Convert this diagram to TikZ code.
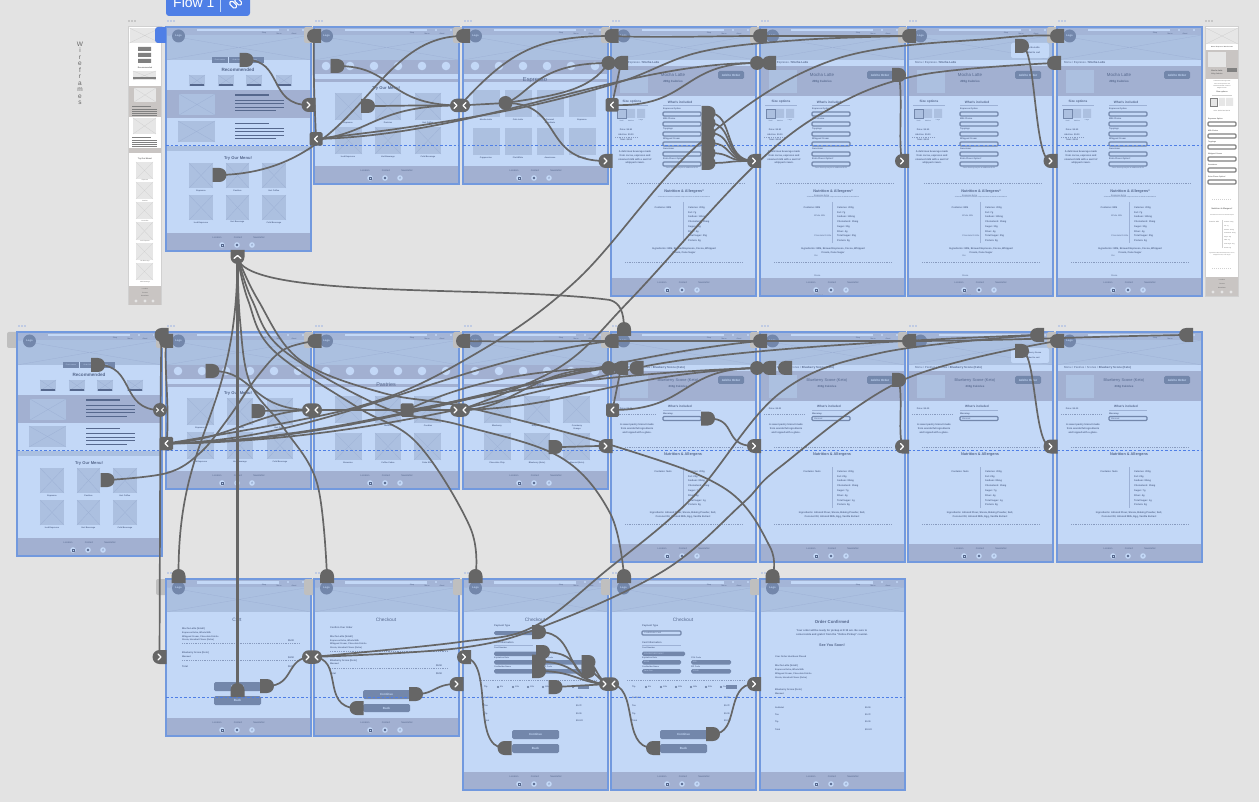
\documentclass[tikz,border=0pt]{standalone}
\usepackage{fontspec}
\setmainfont{Liberation Sans}
\usetikzlibrary{shapes.misc}
\definecolor{bgc}{HTML}{E3E3E3}
\definecolor{bodyc}{HTML}{C3D8F7}
\definecolor{hdrc}{HTML}{ABC0E0}
\definecolor{navc}{HTML}{A4B5D7}
\definecolor{bandc}{HTML}{A2B0D1}
\definecolor{framec}{HTML}{7299DE}
\definecolor{cornerc}{HTML}{BFBFBF}
\definecolor{hc}{HTML}{666666}
\definecolor{phc}{HTML}{ACC0E0}
\definecolor{xlc}{HTML}{9DB1D5}
\definecolor{txc}{HTML}{56688D}
\definecolor{btnc}{HTML}{7387AB}
\definecolor{blu}{HTML}{4F7FE6}
\definecolor{sbg}{HTML}{C9C5C3}
\definecolor{sph}{HTML}{E6E6E6}
\definecolor{sln}{HTML}{D0D0D0}
\pgfdeclarelayer{scr}\pgfdeclarelayer{conl}
\pgfsetlayers{scr,conl,main}
\newcounter{tn}
\newcommand\tx[4][]{\stepcounter{tn}\node[tt,#1] (t\arabic{tn}) at (#2,#3) {#4};}
\newcommand\ph[4]{\fill[phc] (#1,#2) rectangle (#3,#4);\draw[xl] (#1,#2)--(#3,#4) (#1,#4)--(#3,#2);}
\newcommand\phn[4]{\fill[phc] (#1,#2) rectangle (#3,#4);}
\newcommand\phg[4]{\fill[sph] (#1,#2) rectangle (#3,#4);\draw[sln,line width=.3pt] (#1,#2)--(#3,#4) (#1,#4)--(#3,#2);}
\newcommand\btn[5]{\fill[btnc,rounded corners=1.5pt] (#1,#2) rectangle (#3,#4);\tx[fb=3,text=bodyc]{#1/2+#3/2}{#2/2+#4/2}{#5}}
\newcommand\dd[5]{\draw[bodyc,fill=bodyc] (#1,#2) rectangle (#3,#4);\draw[btnc,line width=1.3pt,rounded corners=1pt] (#1,#2) rectangle (#3,#4);\tx[fs=2.2,al]{#1+2}{#2/2+#4/2}{#5}}
\newcommand\scrbase[1]{%
 \fill[cornerc,rounded corners=2pt] (-10,0) rectangle (1,16);
 \fill[blu] (2,-6) circle (.7) (5,-6) circle (.7) (8,-6) circle (.7);
 \fill[bodyc] (0,0) rectangle (145,#1);
 \fill[hdrc] (0,0) rectangle (145,33);
 \draw[xl] (0,8)--(145,33) (0,33)--(145,8);
 \fill[navc] (0,0) rectangle (145,8);
 \fill[bodyc] (31,2) rectangle (113,4.5);
 \fill[bodyc] (122,3) circle (1.2) (137,3) circle (1.2);
 \tx[fs=1.9]{98}{6.5}{Shop}\tx[fs=1.9]{113}{6.5}{Menu}\tx[fs=1.9]{128}{6.5}{About}
 \fill[btnc] (12.5,9) circle (6.5);
 \tx[fb=2.6,text=bodyc]{12.5}{9}{Logo}
 \fill[bandc] (0,#1-18) rectangle (145,#1);
 \tx[fs=2.4]{51}{#1-13.5}{Location}\tx[fs=2.4]{72}{#1-13.5}{Contact}\tx[fs=2.4]{93}{#1-13.5}{Newsletter}
 \fill[bodyc] (56,#1-6) circle (2.8) (71,#1-6) circle (2.8) (86,#1-6) circle (2.8);
 \draw[txc,line width=.4pt] (54.8,#1-7.2) rectangle (57.2,#1-4.8);
 \fill[txc] (71,#1-6) circle (1.3);
 \tx[fb=3]{86}{#1-6}{f}
}
\newcommand\scrfin[1]{\draw[framec,line width=1.2pt] (0,0) rectangle (145,#1);
 \draw[blu,line width=.7pt,dashed,dash pattern=on 2.5pt off 2pt] (0,118) -- (145,118);}
\newcommand\circband{\fill[bandc] (0,33) rectangle (145,47);
 \foreach \c in {12,36,60,84,108,132}{\fill[bodyc] (\c,39) circle (4.3);}
 \fill[bandc] (0,52) rectangle (145,55);}
\newcommand\homescr[2]{\begin{scope}[shift={(#1,#2)}]
 \scrbase{224}
 \fill[btnc] (46,30) rectangle (98,36.5);
 \draw[bodyc,line width=.3pt] (62,30)--(62,36.5) (81,30)--(81,36.5);
 \tx[fs=1.7,text=bodyc]{54}{33.2}{Find Location}\tx[fs=1.7,text=bodyc]{71.5}{33.2}{Order Online}\tx[fs=1.7,text=bodyc]{89}{33.2}{Menu}
 \tx[fb=4.6]{72}{43}{Recommended}
 \foreach \c in {23,52,80,110}{\ph{\c}{48}{\c+16}{59}\fill[txc] (\c+1,57.2) rectangle (\c+15,58.6);}
 \fill[bandc] (0,63) rectangle (145,91);
 \ph{13}{67}{49}{88}
 \draw[txc,line width=1.6pt] (69,68)--(103,68);
 \draw[txc,line width=1pt] (69,73.5)--(118,73.5) (69,77)--(118,77) (69,80.5)--(118,80.5) (69,84)--(110,84);
 \ph{12}{94}{49}{115}
 \draw[txc,line width=1.6pt] (69,96.5)--(103,96.5);
 \draw[txc,line width=1pt] (69,101.5)--(118,101.5) (69,105)--(118,105) (69,108.5)--(118,108.5) (69,112)--(110,112);
 \fill[hdrc] (0,119) rectangle (145,124);
 \tx[fb=4.1]{72}{131}{Try Our Menu!}
 \ph{23}{136}{47}{161}\ph{60}{136}{83}{161}\ph{96}{136}{120}{161}
 \ph{23}{168}{47}{193}\ph{60}{168}{83}{193}\ph{96}{168}{120}{193}
 \tx[fb=2.1]{35}{163.5}{Espresso}\tx[fb=2.1]{71.5}{163.5}{Pastries}\tx[fb=2.1]{108}{163.5}{Hot Coffee}
 \tx[fb=2.1]{35}{195.5}{Iced Espresso}\tx[fb=2.1]{71.5}{195.5}{Hot Beverage}\tx[fb=2.1]{108}{195.5}{Cold Beverage}
 \scrfin{224}
\end{scope}}
\newcommand\menuscr[2]{\begin{scope}[shift={(#1,#2)}]
 \scrbase{157}\circband
 \tx[fb=4.1]{72}{61}{Try Our Menu!}
 \ph{21}{66}{48}{93}\ph{61}{66}{87}{93}\ph{101}{66}{127}{93}
 \ph{21}{100}{48}{127}\ph{61}{100}{87}{127}\ph{101}{100}{127}{127}
 \tx[fb=2.1]{34}{96}{Espresso}\tx[fb=2.1]{74}{96}{Pastries}\tx[fb=2.1]{114}{96}{Hot Coffee}
 \tx[fb=2.1]{34}{130}{Iced Espresso}\tx[fb=2.1]{74}{130}{Hot Beverage}\tx[fb=2.1]{114}{130}{Cold Beverage}
 \scrfin{157}
\end{scope}}
\newcommand\espscr[2]{\begin{scope}[shift={(#1,#2)}]
 \scrbase{157}\circband
 \tx[fs=5.8]{72}{53}{Espresso}
 \foreach \c in {10,42,74,106}{\phn{\c}{63}{\c+26.5}{90}\phn{\c}{101}{\c+26.5}{128}}
 \tx[fb=2.1]{23}{93}{Mocha Latte}\tx[fb=2.1]{55}{93}{Cafe Latte}\tx[fb=2.1]{87}{93}{Caramel}\tx[fb=2.1]{87}{96}{Macchiato}\tx[fb=2.1]{119}{93}{Espresso}
 \tx[fb=2.1]{23}{131}{Cappuccino}\tx[fb=2.1]{55}{131}{Flat White}\tx[fb=2.1]{87}{131}{Americano}\tx[fb=2.1]{119}{131}{Red Eye}
 \scrfin{157}
\end{scope}}
\newcommand\pastscr[8]{\begin{scope}[shift={(#1,#2)}]
 \scrbase{157}\circband
 \tx[fs=5.4]{72}{53}{#3}
 \ph{21}{64}{48}{91}\ph{61}{64}{87}{91}\ph{100}{64}{127}{91}
 \ph{21}{101}{48}{128}\ph{61}{101}{87}{128}\ph{100}{101}{127}{128}
 \tx[fb=2.1]{34}{94}{#4}\tx[fb=2.1]{74}{94}{#5}\tx[fb=2.1]{114}{94}{#6}
 \tx[fb=2.1]{34}{131}{#7}\tx[fb=2.1]{74}{131}{#8}
 \scrfin{157}
\end{scope}}
\newcommand\ftop[1]{% breadcrumb, title bar
 \fill[bodyc] (0,33) rectangle (145,39);
 \tx[fs=2.9,al]{7}{36}{#1}
 \fill[bandc] (0,39) rectangle (145,69);
 \phn{9}{43}{37}{66}
 \btn{107}{44}{133}{52}{Add to Order}
}
\newcommand\detscr[3]{\begin{scope}[shift={(#1,#2)}]
 \scrbase{269}
 \ftop{Menu / Espresso / \textbf{Mocha Latte}}
 \tx[fs=4.4]{62}{48}{Mocha Latte}\tx[fb=3]{62}{55}{200g Calories}
 \tx[fb=3.2]{21}{75}{Size options}\tx[fb=3.2]{69}{75}{What's included}
 \draw[xlb] (5,78)--(37,78) (52,78)--(90,78);
 \fill[phc] (16,82) rectangle (24,91) (26,82) rectangle (34,91);
 \draw[btnc,fill=phc,line width=.8pt] (6,82) rectangle (15,91);
 \tx[fs=1.6]{10.5}{93.5}{Small}\tx[fs=1.6]{20}{93.5}{Medium}\tx[fs=1.6]{30}{93.5}{Large}
 \tx[fb=2.2]{15}{103}{Price: \$4.50}\tx[fb=2.2]{15}{108}{Add-Ins: \$0.00}\tx[fb=2.2]{15}{113}{Total: \$4.50}
 \draw[dt] (4,110.5)--(26,110.5);
 \foreach \l/\v/\y in {Espresso Option/Espresso Extra/82,Milk Choice/Whole Milk/92,Toppings/Chocolate Drizzle/102,Whipped Cream/Yes/112,Sweetener/Stevia/122,Extra Flavor Option*/Hazelnut/132}{
  \tx[fb=2.2,al]{52}{\y}{\l}
  \ifnum#3=1 \dd{52}{\y+3}{90}{\y+7}{\v}\else\dd{52}{\y+3}{90}{\y+7}{}\fi}
 \tx[fs=1.7]{71}{141}{Some flavoring may be an additional \$0.50}
 \tx[fb=2.5]{24}{125}{A delicious beverage made}\tx[fb=2.5]{24}{129}{from cocoa, espresso and}\tx[fb=2.5]{24}{132.5}{steamed milk with a swirl of}\tx[fb=2.5]{24}{136}{whipped cream.}
 \draw[dt] (16,156)--(134,156);
 \tx[fb=3.8]{73}{165}{Nutrition \& Allergens*}
 \tx[fs=1.5]{73}{170}{*Information is based on standard recipes and does not include customizations}
 \tx[fb=2.4]{52}{181}{Contains: Milk}
 \draw[xlb] (72,175)--(72,216);
 \foreach \l/\y in {Calories: 200g/181,Fat: 7g/186,Sodium: 110mg/190,Cholesterol: 35mg/195,Sugar: 30g/200,Fiber: 4g/205,Total Sugar: 25g/209,Protein: 8g/214}{\tx[fb=2.4,al]{77}{\y}{\l}}
 \tx[fb=2.5]{73}{222}{Ingredients: Milk, Brewed Espresso, Cocoa, Whipped}\tx[fb=2.5]{73}{226}{Cream, Cane Sugar}
 \draw[dt] (14,235)--(132,235);
 \scrfin{269}
\end{scope}}
\newcommand\blscr[3]{\begin{scope}[shift={(#1,#2)}]
 \scrbase{230}
 \ftop{Menu / Pastries / Scones / \textbf{Blueberry Scone (Keto)}}
 \tx[fs=3.9]{67}{48}{Blueberry Scone (Keto)}\tx[fb=2.9]{67}{55}{233g Calories}
 \tx[fb=2.2]{15}{77}{Price: \$4.00}
 \draw[dt] (4,82)--(44,82);
 \tx[fb=3.1]{69}{74.5}{What's included}
 \draw[xlb] (52,78)--(90,78);
 \tx[fb=2.2,al]{52}{82}{Warming:}
 \dd{52}{84.5}{90}{88.5}{#3}
 \tx[fb=2.5]{26}{93}{A sweet pastry biscuit made}\tx[fb=2.5]{26}{97}{from wonderful ingredients}\tx[fb=2.5]{26}{101}{and topped with a glaze.}
 \draw[dt] (14,115)--(132,115);
 \tx[fb=3.8]{72}{123}{Nutrition \& Allergens}
 \tx[fb=2.4]{52}{140}{Contains: Nuts}
 \draw[xlb] (72,135)--(72,176);
 \foreach \l/\y in {Calories: 200g/140,Fat: 20g/145,Sodium: 85mg/149,Cholesterol: 35mg/154,Sugar: 7g/159,Fiber: 4g/164,Total Sugar: 1g/169,Protein: 8g/173}{\tx[fb=2.4,al]{77}{\y}{\l}}
 \tx[fb=2.5]{72}{181}{Ingredients: Almond Flour, Stevia, Baking Powder, Salt,}\tx[fb=2.5]{72}{185}{Coconut Oil, Almond Milk, Egg, Vanilla Extract}
 \draw[dt] (14,192)--(132,192);
 \scrfin{230}
\end{scope}}
\newcommand\ckscr[3]{\begin{scope}[shift={(#1,#2)}]
 \scrbase{211}
 \tx[fs=4.8]{72}{41}{Checkout}
 \tx[fb=2.4,al]{31}{47}{Payment Type}
 \tx[fb=2.4,al]{31}{64}{Card Information}\draw[xlb] (31,66)--(70,66);
 \tx[fb=2,al]{31}{69}{Card Number}\tx[fb=2,al]{31}{79}{Expiration Date}\tx[fb=2,al]{31}{88}{Cardholder Name}
 \tx[fb=2,al]{80}{79}{CVV Code}\tx[fb=2,al]{80}{88}{ZIP Code}
 \ifnum#3=1
  \dd{31}{52}{70}{56}{Credit/Debit Card}
  \btn{31}{72.5}{74}{77}{}\btn{31}{81}{70}{85.5}{}\btn{31}{90}{70}{94.5}{}\btn{80}{81}{120}{85.5}{}\btn{80}{90}{120}{94.5}{}
  \tx[fs=2,al,text=bodyc]{33}{75}{1234 5678 9123 4567}\tx[fs=2,al,text=bodyc]{33}{83.2}{01/25}\tx[fs=2,al,text=bodyc]{33}{92.2}{Jane Doe}\tx[fs=2,al,text=bodyc]{82}{83.2}{123}\tx[fs=2,al,text=bodyc]{82}{92.2}{12345}
 \else
  \btn{31}{52}{70}{56}{}
  \btn{31}{72.5}{74}{77}{}\btn{31}{81}{70}{85.5}{}\btn{31}{90}{70}{94.5}{}\btn{80}{81}{120}{85.5}{}\btn{80}{90}{120}{94.5}{}
 \fi
 \draw[dt] (16,101)--(134,101);
 \tx[fb=2.2,al]{21}{108}{Tip}
 \foreach \c/\l in {37/0\%,52/10\%,67/15\%,82/18\%,97/20\%,112/Custom}{\draw[txc,line width=.3pt] (\c-2,108) circle (.9);\tx[fb=2,al]{\c}{108}{\l}}
 \fill[btnc] (115,106) rectangle (126,110);
 \foreach \l/\v/\y in {Subtotal/\$9.50/119,Tax/\$0.72/127,Tip/\$0.00/135,Total/\$10.22/142}{\tx[fb=2.2,al]{21}{\y}{\l}\tx[fb=2.2,al]{113}{\y}{\v}}
 \btn{49}{151}{96}{160}{Continue}\btn{49}{165}{96}{174}{Back}
 \scrfin{211}
\end{scope}}
\tikzset{
 tt/.style={inner sep=0pt,text=txc,font=\fontsize{2.5}{3}\selectfont},
 fs/.style={font=\fontsize{#1}{#1}\selectfont},
 fb/.style={font=\fontsize{#1}{#1}\selectfont\bfseries},
 al/.style={anchor=west},
 xl/.style={draw=xlc,line width=.3pt},
 xlb/.style={draw=xlc,line width=.9pt},
 dt/.style={draw=xlc!70!txc,line width=.35pt,dash pattern=on .8pt off 1pt},
 conl/.style={draw=hc,line width=1.7pt},
 hnd/.style={fill=hc,inner sep=0pt,minimum height=14pt,minimum width=13pt,rounded rectangle},
 hr/.style={hnd,rounded rectangle west arc=none},
 hl/.style={hnd,rounded rectangle east arc=none},
 hu/.style={hr,rotate=90},
 hd/.style={hr,rotate=-90},
 pill/.style={hnd},
 bsq/.style={fill=hc,inner sep=0pt,minimum height=13.5pt,minimum width=13pt,rectangle,rounded corners=1.5pt},
 xbdg/.style={hnd,minimum width=20pt,minimum height=13.5pt},
 chev/.style={draw=white,line width=1.3pt,line cap=round,line join=round},
}
\newcommand\bR[3]{\node[hl] (#1) at (#2,#3) {};\draw[chev] ([shift={(-1.5,-3)}]#1.center) -- ++(3,3) -- ++(-3,3);}
\newcommand\bL[3]{\node[bsq] (#1) at (#2,#3) {};\draw[chev] ([shift={(1.5,-3)}]#1.center) -- ++(-3,3) -- ++(3,3);}
\newcommand\bX[3]{\node[xbdg] (#1) at (#2,#3) {};\draw[chev] ([shift={(-6,-3)}]#1.center) -- ++(3,3) -- ++(-3,3);\draw[chev] ([shift={(6,-3)}]#1.center) -- ++(-3,3) -- ++(3,3);}
\begin{document}
\begin{tikzpicture}[x=1pt,y=-1pt]
\useasboundingbox (0,0) rectangle (1259,802);
\begin{pgfonlayer}{scr}
\clip (0,0) rectangle (1259,802);
\fill[bgc] (0,0) rectangle (1259,802);
% flow tab
\fill[blu,rounded corners=3pt] (166,-6) rectangle (250,16);
\draw[bodyc,line width=.4pt] (220.5,0)--(220.5,12);
\draw[white,line width=1.1pt,rounded corners=1.5pt,rotate around={-45:(233.5,5)}] (229,3) rectangle (237,7);
\draw[white,line width=1.1pt,rounded corners=1.5pt,rotate around={-45:(238.5,2)}] (234,0) rectangle (242,4);
\tx[fs=14,text=white,anchor=base west]{173}{8}{Flow 1}
\tx[fs=6.5,text=hc,align=center]{80}{73.5}{\fontsize{6.5}{7.2}\selectfont W\\i\\r\\e\\f\\r\\a\\m\\e\\s}
% left sidebar
\fill[hc] (129,21) circle (.7) (132,21) circle (.7) (135,21) circle (.7);
\fill[sln] (128,26) rectangle (162,305);
\fill[white] (129,27) rectangle (160.5,286);
\phg{129.5}{28}{160}{43}
\fill[gray] (138,47) rectangle (151,51) (138,53) rectangle (151,57) (138,59) rectangle (151,63);
\tx[fb=2,text=hc]{145}{68}{Recommended}
\phg{133}{71}{156}{80}
\fill[gray] (133,77) rectangle (156,79.5);
\fill[sbg] (129,86) rectangle (160.5,117);
\phg{134}{88}{156}{102}
\draw[gray,line width=.8pt] (132,106)--(151,106);
\draw[gray,line width=.8pt] (132,109)--(157,109) (132,111)--(157,111) (132,113)--(157,113) (132,115)--(157,115);
\phg{133}{118}{156}{134}
\draw[gray,line width=.8pt] (132,137)--(151,137) (132,140)--(157,140) (132,142)--(157,142) (132,144)--(157,144) (132,146)--(157,146);
\fill[sbg] (129,148) rectangle (160.5,153);
\tx[fb=2.1,text=hc]{145}{159}{Try Our Menu!}
\phg{136}{162}{153}{179}\phg{136}{182}{153}{199}\phg{136}{202}{153}{219}\phg{136}{222}{153}{240}\phg{136}{243}{153}{260}\phg{136}{263}{153}{280}
\tx[fs=1.5,text=hc]{145}{180.5}{Espresso}\tx[fs=1.5,text=hc]{145}{201}{Pastries}\tx[fs=1.5,text=hc]{145}{221}{Hot Coffee}\tx[fs=1.5,text=hc]{145}{241.5}{Iced Espresso}\tx[fs=1.5,text=hc]{145}{261.5}{Hot Beverage}\tx[fs=1.5,text=hc]{145}{282}{Cold Beverage}
\fill[sbg] (129,286) rectangle (160.5,305);
\tx[fs=1.6,text=hc]{145}{289}{Location}\tx[fs=1.6,text=hc]{145}{293}{Contact}\tx[fs=1.6,text=hc]{145}{296}{Newsletter}
\fill[sph] (136,301) circle (1.6) (145,301) circle (1.6) (153,301) circle (1.6);
% right sidebar
\fill[hc] (1206,21) circle (.7) (1209,21) circle (.7) (1212,21) circle (.7);
\fill[sln] (1205,26) rectangle (1239,297);
\fill[white] (1206,27) rectangle (1238,277);
\phg{1206}{28}{1238}{44}
\tx[fb=1.5,text=hc]{1222}{47}{Menu / Espresso / Mocha Latte}
\fill[sbg] (1206,50) rectangle (1238,79);
\fill[sph] (1208,52) rectangle (1226,67);
\tx[fb=1.9,text=hc]{1217}{71}{Mocha Latte}\tx[fb=1.7,text=hc]{1217}{74.5}{200g Calories}
\fill[gray] (1227,68) rectangle (1237,72);
\foreach \y/\l in {81.5/A delicious beverage made,84/from cocoa espresso and,86.5/steamed milk with a swirl of,88.5/whipped cream.}{\tx[fs=1.4,text=hc]{1222}{\y}{\l}}
\tx[fb=1.9,text=hc]{1222}{92}{Size options}
\draw[sln,line width=.7pt] (1212,95)--(1232,95);
\draw[gray,fill=sph,line width=.8pt] (1210,98) rectangle (1217,106);
\fill[sph] (1219,98) rectangle (1225,106) (1226,98) rectangle (1233,106);
\tx[fs=1.5,text=hc]{1222}{111}{Price: \$4.50 Total: \$4.50}
\foreach \y/\l in {119/Espresso Option,131/Milk Choice,142/Toppings,154/Whipped Cream,165/Sweetener,177/Extra Flavor Option*}{\tx[fb=1.8,al,text=hc]{1208}{\y}{\l}\draw[gray,line width=1.2pt,rounded corners=1pt] (1208,\y+3) rectangle (1236,\y+7);}
\draw[sln,line width=.4pt,dash pattern=on 1pt off 1pt] (1212,199)--(1232,199) (1212,268)--(1232,268);
\tx[fb=2,text=hc]{1222}{209}{Nutrition \& Allergens*}
\tx[fs=1.3,text=hc]{1222}{215}{*Information is based on standard recipes}
\tx[fs=1.5,text=hc]{1214}{222}{Contains: Milk}
\draw[sln,line width=.7pt] (1222,220)--(1222,248);
\foreach \y/\l in {222/Calories: 200g,226/Fat: 7g,230/Sodium: 110mg,233/Cholesterol: 35mg,237/Sugar: 30g,240/Fiber: 4g,244/Total Sugar: 25g,248/Protein: 8g}{\tx[fs=1.4,al,text=hc]{1224}{\y}{\l}}
\tx[fs=1.3,text=hc]{1222}{253}{Ingredients: Milk, Brewed Espresso, Cocoa,}\tx[fs=1.3,text=hc]{1222}{255.5}{Whipped Cream, Cane Sugar}
\fill[sbg] (1206,277) rectangle (1238,296);
\tx[fs=1.6,text=hc]{1222}{280}{Location}\tx[fs=1.6,text=hc]{1222}{284}{Contact}\tx[fs=1.6,text=hc]{1222}{288}{Newsletter}
\fill[sph] (1213,292) circle (1.6) (1222,292) circle (1.6) (1231,292) circle (1.6);
% screens row 1
\homescr{166}{27}
\fill[blu,rounded corners=3pt] (155,27) rectangle (166,43);
\fill[blu] (160,27) rectangle (166,43);
\menuscr{314}{27}
\espscr{463}{27}
\detscr{611}{27}{0}\detscr{760}{27}{1}\detscr{908}{27}{1}\detscr{1057}{27}{1}
\fill[bodyc,rounded corners=2pt] (1011,43) rectangle (1049,58);
\tx[fb=2.3]{1033}{48}{Mocha Latte}\tx[fb=2.3]{1033}{53}{added to cart}
% row 2
\homescr{17}{332}
\menuscr{166}{332}
\pastscr{314}{332}{Pastries}{Scones}{Muffins}{Cookies}{Brownies}{Coffee Cakes}
\tx[fb=2.1]{428}{463}{Cake Slices}
\pastscr{463}{332}{Scones}{Blueberry}{Raspberry}{Cranberry}{Chocolate Chip}{Blueberry (Keto)}
\tx[fb=2.1]{577}{429}{Orange}\tx[fb=2.1]{577}{463}{Almond (Keto)}
\blscr{611}{332}{}\blscr{760}{332}{Warmed}\blscr{908}{332}{Warmed}\blscr{1057}{332}{Warmed}
\fill[bodyc,rounded corners=2pt] (1011,348) rectangle (1049,363);
\tx[fb=2.1]{1033}{353}{Blueberry Scone}\tx[fb=2.1]{1033}{358}{added to cart}
% row 3: cart
\begin{scope}[shift={(166,579)}]
 \scrbase{157}
 \tx[fs=4.8]{71}{41}{Cart}
 \foreach \y/\l in {54/{Espresso Extra, Whole Milk},58/{Whipped Cream, Chocolate Drizzle},61/{Stevia, Hazelnut Flavor (Extra)},78/Warmed}{\tx[fb=2.2,al]{16}{\y}{\l}}
 \tx[fb=2.4,al]{16}{50}{Mocha Latte (Small)}\tx[fb=2.4,al]{16}{74}{Blueberry Scone (Keto)}\tx[fb=2.4,al]{16}{88}{Total}
 \draw[dt] (16,64)--(134,64) (16,81)--(134,81);
 \tx[fb=2.4]{125}{62}{\$5.00}\tx[fb=2.4]{125}{79}{\$4.50}\tx[fb=2.4]{125}{88}{\$9.50}
 \btn{48}{103}{95}{112}{Continue}\btn{48}{117}{95}{126}{Back}
 \scrfin{157}
\end{scope}
\begin{scope}[shift={(314,579)}]
 \scrbase{157}
 \tx[fs=4.8]{72}{41}{Checkout}
 \tx[fb=2.4,al]{16}{49}{Confirm Your Order}
 \foreach \y/\l in {62/{Espresso Extra, Whole Milk},65/{Whipped Cream, Chocolate Drizzle},69/{Stevia, Hazelnut Flavor (Extra)},85/Warmed}{\tx[fb=2.2,al]{16}{\y}{\l}}
 \tx[fb=2.4,al]{16}{58}{Mocha Latte (Small)}\tx[fb=2.4,al]{16}{82}{Blueberry Scone (Keto)}\tx[fb=2.4,al]{16}{95}{Total}
 \draw[dt] (16,72)--(134,72) (16,89)--(134,89);
 \tx[fb=2.4]{125}{87}{\$9.50}\tx[fb=2.4]{125}{95}{\$9.50}
 \btn{49}{111}{96}{120}{Continue}\btn{49}{125}{96}{133}{Back}
 \scrfin{157}
\end{scope}
\ckscr{463}{579}{0}\ckscr{611}{579}{1}
\begin{scope}[shift={(760,579)}]
 \scrbase{211}
 \tx[fb=4.3]{72}{43}{Order Confirmed}
 \tx[fb=2.6]{72}{52}{Your order will be ready for pickup at 8:15 am. Be sure to}
 \tx[fb=2.6]{72}{56}{come inside and grab it from the "Online Pickup" counter.}
 \tx[fb=3.7]{72}{66}{See You Soon!}
 \tx[fb=2.3,al]{15}{78}{Your Order Has Been Placed}
 \tx[fb=2.4,al]{15}{87}{Mocha Latte (Small)}
 \foreach \y/\l in {91/{Espresso Extra, Whole Milk},95/{Whipped Cream, Chocolate Drizzle},99/{Stevia, Hazelnut Flavor (Extra)},115/Warmed}{\tx[fb=2.2,al]{15}{\y}{\l}}
 \tx[fb=2.4,al]{15}{111}{Blueberry Scone (Keto)}
 \foreach \l/\v/\y in {Subtotal/\$9.50/129,Tax/\$0.72/136,Tip/\$0.00/143,Total/\$10.22/151}{\tx[fb=2.2,al]{15}{\y}{\l}\tx[fb=2.2,al]{105}{\y}{\v}}
 \scrfin{211}
\end{scope}
\end{pgfonlayer}
% ---------- handles
\node[hr] (a1rec) at (246.5,60) {};
\bR{a1next}{308.5}{105}
\node[hr] (a1menu) at (219.5,175) {};
\node[hd,minimum height=14pt,minimum width=12pt] (a1up) at (237.5,257) {};
\draw[chev] ([shift={(-3.5,1.5)}]a1up.center) -- ++(3.5,-3) -- ++(3.5,3);
\node[hl] (a2in) at (314,36) {};
\bL{a2back}{316}{139}
\node[hr] (a2rec) at (337.5,66) {};
\node[hr] (a2menu) at (368,106) {};
\bX{a2x}{460}{105.5}
\node[hl] (a3in) at (463,36) {};
\node[pill] (a3hub) at (505.5,103) {};
\bR{a3next}{605.5}{161}
\node[hl] (a4in) at (611.5,36) {};
\node[pill] (a4a) at (608.5,63) {};
\node[hl] (a4b) at (621,63) {};
\bL{a4back}{612}{105}
\foreach \i/\y in {1/113,2/123,3/133,4/143,5/153,6/163}{\node[hr] (a4d\i) at (708.5,\y) {};}
\bR{a4next}{754}{161}
\node[hl] (a5in) at (760,36) {};
\node[pill] (a5a) at (757,63) {};
\node[hl] (a5b) at (769,63) {};
\node[hr] (a5add) at (899,75) {};
\bR{a5next}{902}{161}
\node[hl] (a6in) at (909,36) {};
\node[hr] (a6add) at (1022,46) {};
\bR{a6next}{1050.5}{161}
\node[hl] (a7in) at (1057,36) {};
\node[hl] (a7b) at (1054,63) {};
\node[hr] (b0rec) at (98,365) {};
\node[pill,minimum width=14pt] (b0next) at (160,410) {};
\draw[chev,line width=.9pt] ([shift={(-3.5,-2)}]b0next.center) -- ++(2,2) -- ++(-2,2);\draw[chev,line width=.9pt] ([shift={(3.5,-2)}]b0next.center) -- ++(-2,2) -- ++(2,2);
\node[hr] (b0menu) at (107.5,480) {};
\node[hl] (b1a) at (161.5,335) {};
\node[hl] (b1b) at (166,341) {};
\bL{b1back}{166.5}{443.5}
\node[hr] (b1rec) at (212.5,371) {};
\node[hr] (b1menu) at (258.5,411) {};
\bX{b1x}{312}{410}
\node[hl] (b2in) at (314.5,341) {};
\node[bsq] (b2hub) at (407,410) {};
\bX{b2x}{460}{410}
\node[hl] (b3in) at (463,341) {};
\node[hr] (b3a) at (555.5,447) {};
\bR{b3next}{605.5}{446}
\node[hu] (b4top) at (624,329) {};
\node[hl] (b4in) at (611.5,341) {};
\node[pill] (b4a) at (608.5,368) {};
\node[hl] (b4b) at (621,368) {};
\node[hl] (b4c) at (636.5,368) {};
\bL{b4back}{612.5}{410}
\node[hr] (b4d) at (708,418.5) {};
\bR{b4next}{754}{446}
\node[hl] (b5in) at (760,341) {};
\node[pill] (b5a) at (757,368) {};
\node[hl] (b5b) at (769,368) {};
\node[hl] (b5c) at (785,368) {};
\node[hr] (b5add) at (899,380) {};
\bR{b5next}{902}{446.5}
\node[hl] (b6in) at (909,341) {};
\node[hr] (b6add) at (1022,351) {};
\node[hl] (b6top) at (1037,335) {};
\bR{b6next}{1050.5}{446.5}
\node[hl] (b7in) at (1057,341) {};
\node[hl] (b7top) at (1186,335) {};
\node[hu] (c1in) at (178.5,576) {};
\bR{c1next}{159.5}{657}
\node[hu] (c1up) at (237.5,690) {};
\node[hr] (c1cont) at (267,686) {};
\bX{c1x}{312}{657}
\node[hu] (c2in) at (327,576) {};
\node[hl] (c2back) at (356.5,708) {};
\node[hr] (c2cont) at (416,694) {};
\bR{c2next}{456.5}{684}
\node[hu] (c3in) at (475.5,576) {};
\bR{c3back}{464}{657}
\node[hr] (c3pay) at (539,632) {};
\node[hr] (c3num) at (543,652) {};
\node[hr] (c3exp) at (539,661.5) {};
\node[hr] (c3name) at (539,671) {};
\node[hr] (c3cvv) at (588.5,662) {};
\node[hr] (c3zip) at (588.5,671) {};
\node[hr] (c3tip) at (555.5,687) {};
\bX{c3x}{609}{684}
\node[hl] (c3bk) at (504.5,748) {};
\node[hu] (c4in) at (624,576) {};
\node[hl] (c4bk) at (653,748) {};
\node[hr] (c4cont) at (713,734) {};
\bR{c4next}{754}{684}
\node[hu] (c5in) at (772.5,576) {};
% ---------- connectors
\begin{pgfonlayer}{conl}
\clip (0,0) rectangle (1259,802);
\draw[conl] (a1rec.center) .. controls (283,60) and (268,105) .. (a1next.center);
\draw[conl] (a1menu.center) .. controls (360,172) and (370,36) .. (a3in.center);
\draw[conl] (a2in.center) .. controls (313,80) and (315,110) .. (a2back.center);
\draw[conl] (a2rec.center) .. controls (395,66) and (385,105) .. (a2x.center);
\draw[conl] (a2menu.center) .. controls (400,106) and (420,105) .. (a2x.center);
\draw[conl] (a2back.center) .. controls (370,135) and (375,105) .. (a2x.center);
\draw[conl] (a2back.center) .. controls (480,135) and (620,63) .. (a5a.center);
\draw[conl] plot[smooth,tension=.6] coordinates {(a2back.center) (410,127) (520,108) (620,82) (700,52) (800,40) (a6in.center)};
\draw[conl] (a2x.center) .. controls (510,50) and (540,36) .. (a4in.center);
\draw[conl] (a2x.center) -- (a3hub.center);
\draw[conl] (a3hub.center) .. controls (565,103) and (540,161) .. (a3next.center);
\draw[conl] (a3hub.center) .. controls (530,95) and (535,63) .. (a4a.center);
\draw[conl] (a3hub.center) .. controls (560,95) and (590,90) .. (a4a.center);
\draw[conl] (a4in.center) .. controls (660,38) and (710,36) .. (a5in.center);
\draw[conl] (a5in.center) .. controls (800,36) and (860,36) .. (a6in.center);
\draw[conl] (a4b.center) -- (a4back.center);
\draw[conl] (a4back.center) .. controls (690,108) and (680,63) .. (a5a.center);
\foreach \i/\y in {1/113,2/123,3/133,4/143,5/153,6/163}{\draw[conl] (a4d\i.center) .. controls (735,\y) and (722,161) .. (a4next.center);}
\draw[conl] (a5add.center) .. controls (903,100) and (898,140) .. (a5next.center);
\draw[conl] (a6add.center) .. controls (1036,47) and (1034,161) .. (a6next.center);
% long to row 1
\draw[conl] plot[smooth,tension=.6] coordinates {(b1back.center) (357,407) (470,357) (577,280) (700,143) (833,60) (1000,38) (a7in.center)};
\draw[conl] plot[smooth,tension=.6] coordinates {(b2x.center) (560,367) (630,300) (753,167) (833,107) (920,75) (a7b.center)};
% row 2
\draw[conl] (b0rec.center) .. controls (135,365) and (120,410) .. (b0next.center);
\draw[conl] plot[smooth,tension=.6] coordinates {(b0menu.center) (167,473) (200,453) (227,420) (257,377) (283,350) (b2in.center)};
\draw[conl] (b1b.center) .. controls (164,370) and (170,410) .. (b1back.center);
\draw[conl] (b1a.center) .. controls (160,400) and (160,560) .. (c1next.center);
\draw[conl] (b1rec.center) .. controls (255,371) and (250,410) .. (b1x.center);
\draw[conl] (b1menu.center) -- (b1x.center);
\draw[conl] (b1back.center) .. controls (230,440) and (260,410) .. (b1x.center);
\draw[conl] (b1x.center) -- (b2hub.center) -- (b2x.center);
\draw[conl] (b1back.center) .. controls (330,440) and (450,360) .. (b4in.center);
\draw[conl] (b1back.center) .. controls (350,442) and (520,380) .. (b4a.center);
\draw[conl] (b1back.center) .. controls (350,442) and (500,400) .. (b4c.center);
\draw[conl] (b1back.center) .. controls (380,440) and (560,360) .. (b5in.center);
\draw[conl] (b2hub.center) .. controls (440,395) and (500,370) .. (b4a.center);
\draw[conl] (b2hub.center) .. controls (450,405) and (550,375) .. (b5a.center);
\draw[conl] (b2x.center) .. controls (515,410) and (530,368) .. (b4a.center);
\draw[conl] (b2x.center) .. controls (570,408) and (610,375) .. (b5a.center);
\draw[conl] (b3a.center) .. controls (575,447) and (585,446) .. (b3next.center);
\draw[conl] (b3in.center) .. controls (520,342) and (560,341) .. (b4in.center);
\draw[conl] (b4in.center) .. controls (660,341) and (710,341) .. (b5in.center);
\draw[conl] (b5in.center) .. controls (810,341) and (860,341) .. (b6in.center);
\draw[conl] (b4c.center) .. controls (720,350) and (900,340) .. (b6top.center);
\draw[conl] (b4b.center) -- (b4back.center);
\draw[conl] (b4back.center) .. controls (690,410) and (680,368) .. (b5a.center);
\draw[conl] (b4d.center) .. controls (738,418) and (722,446) .. (b4next.center);
\draw[conl] (b5add.center) .. controls (903,405) and (898,425) .. (b5next.center);
\draw[conl] (b6add.center) .. controls (1036,352) and (1034,446) .. (b6next.center);
\draw[conl] (b6in.center) .. controls (1000,341) and (1100,336) .. (b7top.center);
% fan from a1up
\draw[conl] (a1up.center) .. controls (243,300) and (500,285) .. (610,300) .. controls (620,303) and (624,312) .. (b4top.center);
\draw[conl,line width=2.4pt] (a1up.center) -- (c1up.center);
\draw[conl] (a1up.center) .. controls (237,420) and (178,430) .. (c1in.center);
\draw[conl] plot[smooth,tension=.6] coordinates {(a1up.center) (240,320) (250,383) (283,427) (317,483) (c2in.center)};
\draw[conl] plot[smooth,tension=.6] coordinates {(a1up.center) (248,300) (273,350) (357,407) (417,443) (470,527) (c3in.center)};
\draw[conl] plot[smooth,tension=.6] coordinates {(a1up.center) (252,300) (283,350) (383,407) (460,425) (560,457) (610,513) (c4in.center)};
\draw[conl] plot[smooth,tension=.6] coordinates {(a1up.center) (258,300) (300,360) (383,393) (470,408) (627,450) (727,490) (770,547) (c5in.center)};
% row 3
\draw[conl] (c1cont.center) .. controls (295,686) and (285,657) .. (c1x.center);
\draw[conl] (c1x.center) .. controls (345,657) and (320,708) .. (c2back.center);
\draw[conl] (c2cont.center) .. controls (436,694) and (434,684) .. (c2next.center);
\draw[conl] (c3back.center) .. controls (495,660) and (470,748) .. (c3bk.center);
\draw[conl] (c3pay.center) .. controls (580,632) and (560,684) .. (c3x.center);
\draw[conl] (c3num.center) .. controls (590,652) and (565,684) .. (c3x.center);
\draw[conl] (c3exp.center) .. controls (580,662) and (575,684) .. (c3x.center);
\draw[conl] (c3name.center) .. controls (575,671) and (580,684) .. (c3x.center);
\draw[conl] (c3cvv.center) .. controls (597,666) and (597,680) .. (c3x.center);
\draw[conl] (c3zip.center) .. controls (597,672) and (597,680) .. (c3x.center);
\draw[conl] (c3tip.center) -- (c3x.center);
\draw[conl] (c3x.center) .. controls (640,684) and (620,748) .. (c4bk.center);
\draw[conl] (c4cont.center) .. controls (740,734) and (725,684) .. (c4next.center);
\draw[conl] plot[smooth,tension=.6] coordinates {(c1x.center) (460,642) (533,627) (607,570) (693,497) (780,393) (880,353) (b6top.center)};
\draw[conl] plot[smooth,tension=.6] coordinates {(c1x.center) (460,648) (547,625) (665,570) (743,503) (780,467) (903,380) (b7in.center)};
\end{pgfonlayer}
\end{tikzpicture}
\end{document}
